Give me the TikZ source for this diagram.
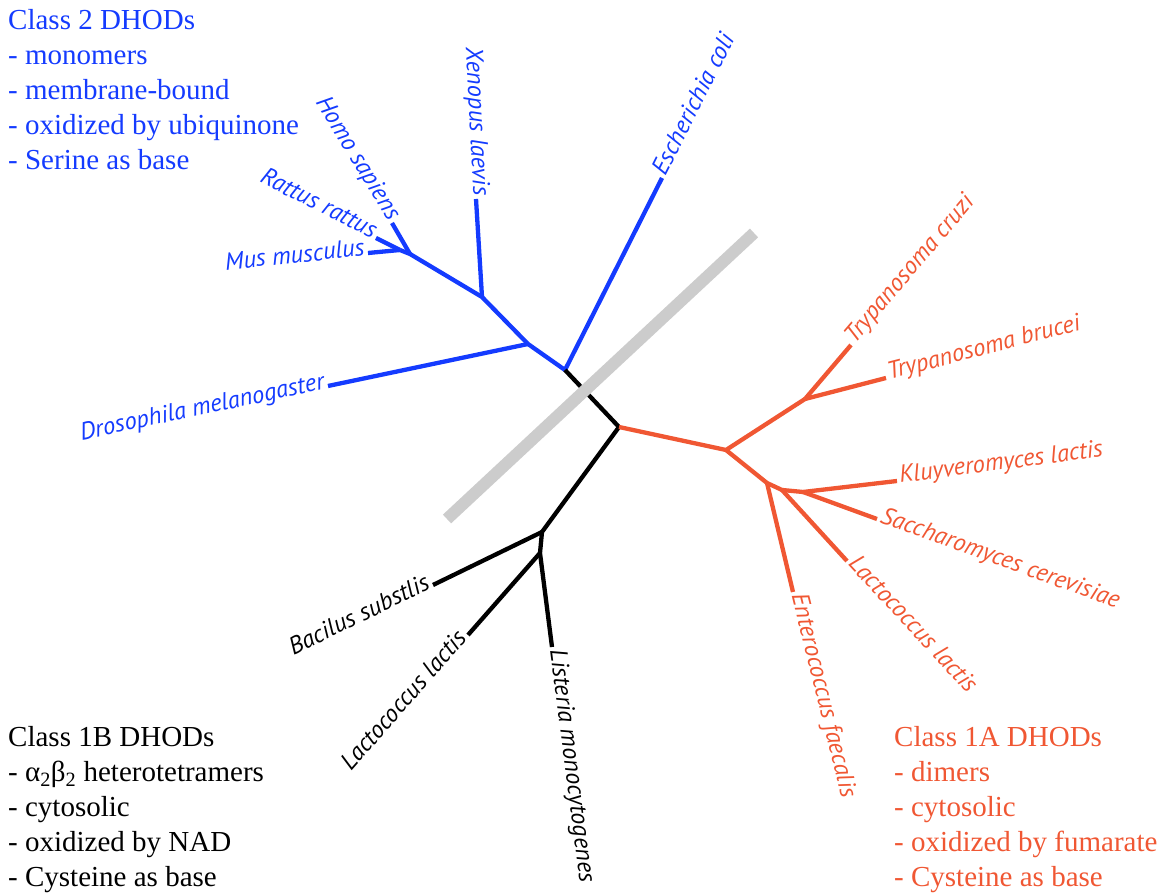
\documentclass[tikz,border=0pt]{standalone}
\usepackage{fontspec}
\setmainfont{Liberation Serif}
\newfontfamily\leaffont{PT Sans}
\usepackage{tikz}
\definecolor{dhodblue}{rgb}{0.08,0.23,1}
\definecolor{dhodorange}{rgb}{0.94,0.34,0.2}
\definecolor{bargray}{rgb}{0.8,0.8,0.8}

\begin{document}
\begin{tikzpicture}[line cap=butt,line join=round,x=1pt,y=1pt,
    branch/.style={line width=4.3pt},
    leaf/.style={font=\leaffont\itshape\fontsize{24.5}{29}\selectfont,inner sep=3pt},
    legend/.style={font=\fontsize{29}{35}\selectfont,align=left,inner sep=0pt,anchor=north west}]
    \useasboundingbox (0,0) rectangle (1171,894);
    % inner nodes
    \coordinate (root) at (619,467);
    \coordinate (ecoN) at (565,524);
    \coordinate (droN) at (528,550);
    \coordinate (xenN) at (482,597);
    \coordinate (homN) at (410,640);
    \coordinate (rodN) at (400,644);
    \coordinate (bacN) at (542,362);
    \coordinate (lisN) at (540,341);
    \coordinate (oraN) at (726,444);
    \coordinate (tryN) at (805,495);
    \coordinate (entN) at (767,411);
    \coordinate (lctN) at (782,404);
    \coordinate (yeaN) at (803,402);
    % leaves
    \coordinate (ecoli) at (662,716);
    \coordinate (dro) at (328,508);
    \coordinate (xen) at (476,695);
    \coordinate (hom) at (392,671);
    \coordinate (rat) at (376,656);
    \coordinate (mus) at (368,641);
    \coordinate (bac) at (433,309);
    \coordinate (lacB) at (468,259);
    \coordinate (lis) at (552,247);
    \coordinate (cru) at (851,549);
    \coordinate (bru) at (886,516);
    \coordinate (klu) at (897,413);
    \coordinate (sac) at (877,375);
    \coordinate (lacA) at (847,333);
    \coordinate (ent) at (793,302);
    % class 2
    \draw [branch,color=dhodblue] (ecoN)-- (ecoli);
    \draw [branch,color=dhodblue] (ecoN)-- (droN)-- (xenN)-- (homN)-- (rodN);
    \draw [branch,color=dhodblue] (droN)-- (dro);
    \draw [branch,color=dhodblue] (xenN)-- (xen);
    \draw [branch,color=dhodblue] (homN)-- (hom);
    \draw [branch,color=dhodblue] (rodN)-- (rat);
    \draw [branch,color=dhodblue] (rodN)-- (mus);
    % class 1B
    \draw [branch] (ecoN)-- (root)-- (bacN)-- (lisN);
    \draw [branch] (bacN)-- (bac);
    \draw [branch] (lisN)-- (lacB);
    \draw [branch] (lisN)-- (lis);
    % class 1A
    \draw [branch,color=dhodorange] (root)-- (oraN)-- (tryN);
    \draw [branch,color=dhodorange] (tryN)-- (cru);
    \draw [branch,color=dhodorange] (tryN)-- (bru);
    \draw [branch,color=dhodorange] (oraN)-- (entN)-- (lctN)-- (yeaN);
    \draw [branch,color=dhodorange] (yeaN)-- (klu);
    \draw [branch,color=dhodorange] (yeaN)-- (sac);
    \draw [branch,color=dhodorange] (lctN)-- (lacA);
    \draw [branch,color=dhodorange] (entN)-- (ent);
    % separating bar
    \coordinate (barA) at (447,375);
    \coordinate (barB) at (754,661);
    \draw [color=bargray,line width=12pt] (barA)-- (barB);
    % species
    \node [leaf,text=dhodblue,rotate=63.2,anchor=mid west] (ecoliL) at (ecoli) {Escherichia coli};
    \node [leaf,text=dhodblue,rotate=11.9,anchor=mid east] (droL) at (dro) {Drosophila melanogaster};
    \node [leaf,text=dhodblue,rotate=-87,anchor=mid east] (xenL) at (xen) {Xenopus laevis};
    \node [leaf,text=dhodblue,rotate=-58.5,anchor=mid east] (homL) at (hom) {Homo sapiens};
    \node [leaf,text=dhodblue,rotate=-26.6,anchor=mid east] (ratL) at (rat) {Rattus rattus};
    \node [leaf,text=dhodblue,rotate=6,anchor=mid east] (musL) at (mus) {Mus musculus};
    \node [leaf,rotate=25.9,anchor=mid east] (bacL) at (bac) {Bacilus substlis};
    \node [leaf,rotate=48.7,anchor=mid east] (lacBL) at (lacB) {Lactococcus lactis};
    \node [leaf,rotate=-82.7,anchor=mid west] (lisL) at (lis) {Listeria monocytogenes};
    \node [leaf,text=dhodorange,rotate=49.6,anchor=mid west] (cruL) at (cru) {Trypanosoma cruzi};
    \node [leaf,text=dhodorange,rotate=14.5,anchor=mid west] (bruL) at (bru) {Trypanosoma brucei};
    \node [leaf,text=dhodorange,rotate=7.4,anchor=mid west] (kluL) at (klu) {Kluyveromyces lactis};
    \node [leaf,text=dhodorange,rotate=-19.9,anchor=mid west] (sacL) at (sac) {Saccharomyces cerevisiae};
    \node [leaf,text=dhodorange,rotate=-47.1,anchor=mid west] (lacAL) at (lacA) {Lactococcus lactis};
    \node [leaf,text=dhodorange,rotate=-76.1,anchor=mid west] (entL) at (ent) {Enterococcus faecalis};
    % legends
    \node [legend,text=dhodblue] (class2) at (8,885) {Class 2 DHODs\\- monomers\\- membrane-bound\\- oxidized by ubiquinone\\- Serine as base};
    \node [legend] (class1B) at (8,168) {Class 1B DHODs\\- α\textsubscript{2}β\textsubscript{2} heterotetramers\\- cytosolic\\- oxidized by NAD\\- Cysteine as base};
    \node [legend,text=dhodorange] (class1A) at (894,168) {Class 1A DHODs\\- dimers\\- cytosolic\\- oxidized by fumarate\\- Cysteine as base};
\end{tikzpicture}
\end{document}
